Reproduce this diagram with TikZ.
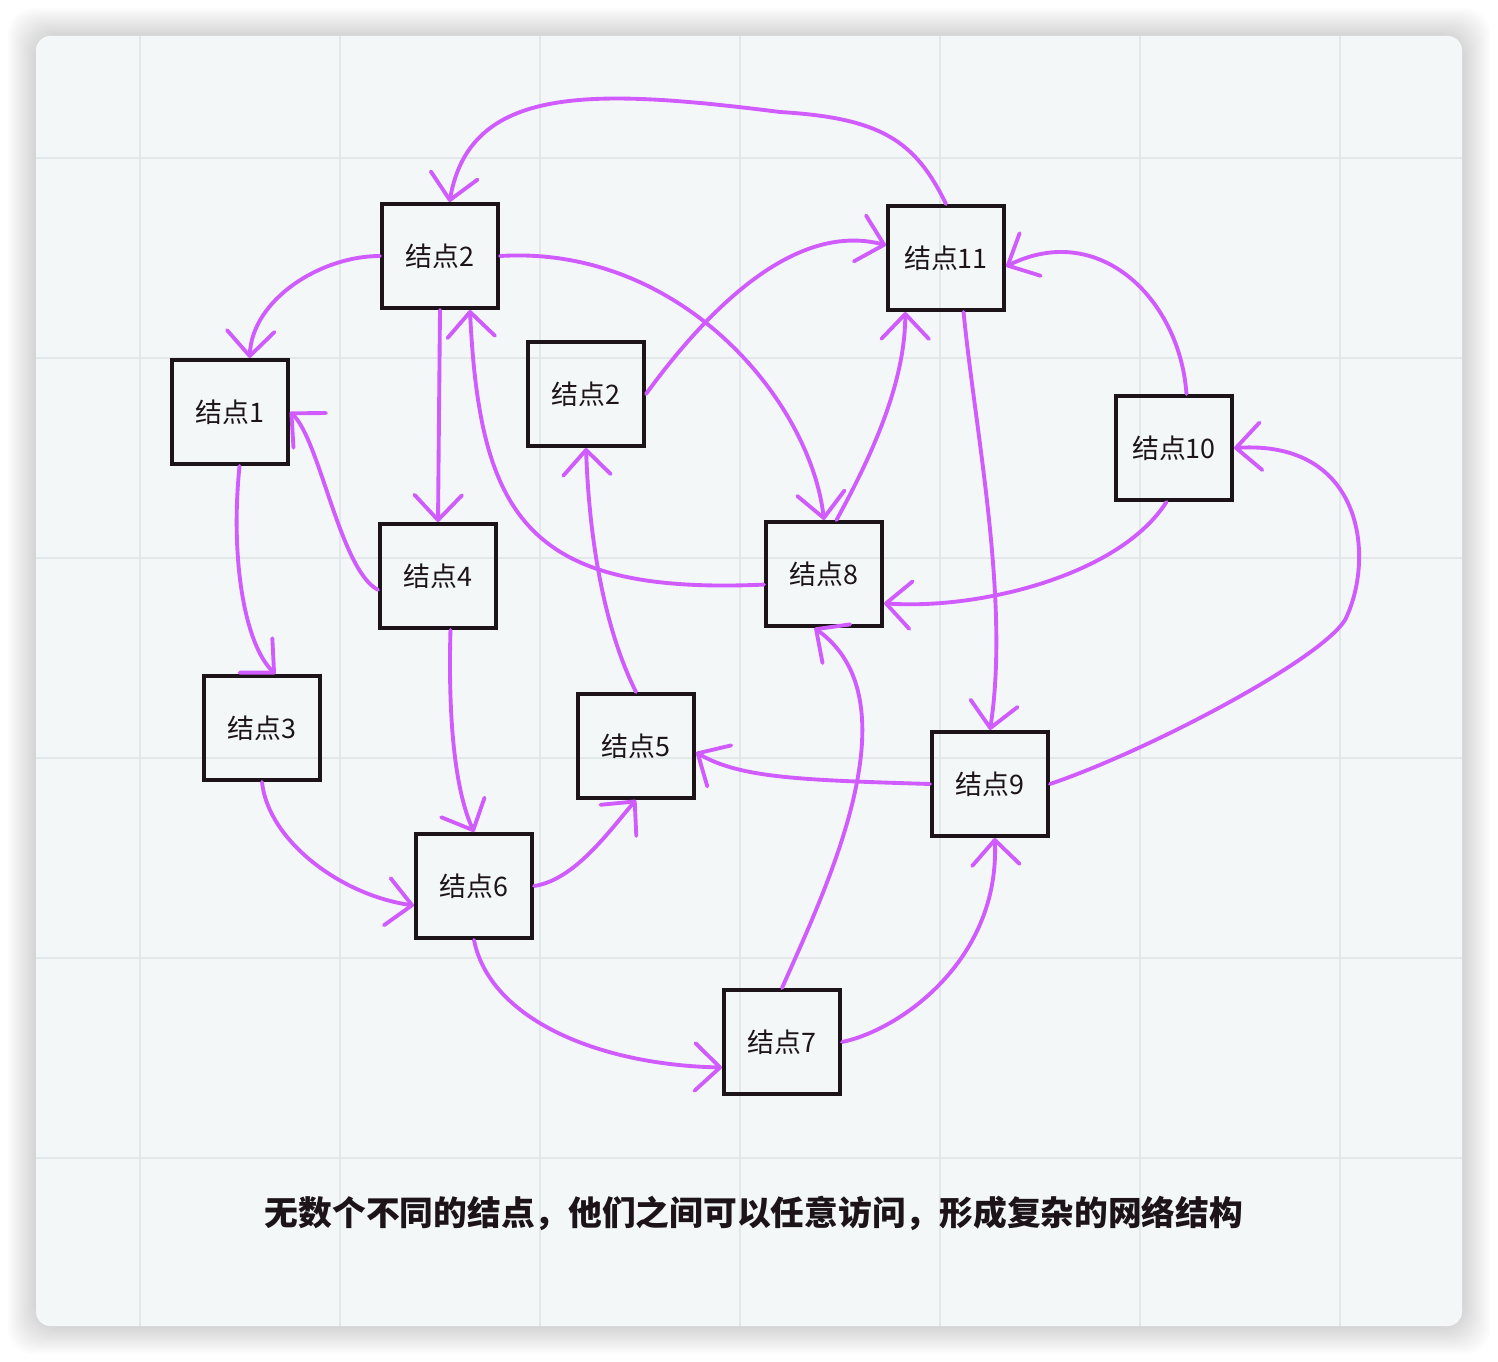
\documentclass[tikz,border=0pt]{standalone}
\usepackage{fontspec}
\setmainfont{Noto Sans CJK SC}
\usetikzlibrary{arrows.meta}
\definecolor{lilla}{HTML}{D05CFF}
\definecolor{kant}{HTML}{1C1418}
\definecolor{flade}{HTML}{F3F7F8}
\definecolor{gitter}{HTML}{E2E7EA}

\begin{document}
\begin{tikzpicture}[x=0.02cm,y=-0.02cm,
  knude/.style={draw=kant,line width=2.3pt,minimum width=2.32cm,minimum height=2.08cm,
    inner sep=0pt,text=kant,font=\fontsize{15.3}{18}\selectfont},
  pil/.style={draw=lilla,line width=2.2pt,line cap=round,line join=round,
    -{Straight Barb[length=0.5cm,width=0.95cm,round]}},
  gitterlinje/.style={draw=gitter,line width=1.1pt}]
  % Baggrund
  \useasboundingbox (0,0) rectangle (1498,1362);
  \fill[white] (0,0) rectangle (1498,1362);
  \foreach \i in {1,...,14}
    \fill[black,opacity=0.012,rounded corners=0.5cm] (36-2*\i,36-2*\i) rectangle (1462+2*\i,1326+2*\i);
  \fill[flade,rounded corners=0.28cm] (36,36) rectangle (1462,1326);

  % Gitter
  \foreach \x in {140,340,...,1340}
    \draw[gitterlinje] (\x,36) -- (\x,1326);
  \foreach \y in {158,358,...,1158}
    \draw[gitterlinje] (36,\y) -- (1462,\y);

  % Knuder
  \node[knude] (K2)  at (440,256)  {结点2};
  \node[knude] (K11) at (946,258)  {结点11};
  \node[knude] (K1)  at (230,412)  {结点1};
  \node[knude] (K2b) at (586,394)  {结点2};
  \node[knude] (K10) at (1174,448) {结点10};
  \node[knude] (K4)  at (438,576)  {结点4};
  \node[knude] (K8)  at (824,574)  {结点8};
  \node[knude] (K3)  at (262,728)  {结点3};
  \node[knude] (K5)  at (636,746)  {结点5};
  \node[knude] (K9)  at (990,784)  {结点9};
  \node[knude] (K6)  at (474,886)  {结点6};
  \node[knude] (K7)  at (782,1042) {结点7};

  % Pile
  \draw[pil] (K11.north) .. controls (915,140) and (880,118) .. (780,112)
    .. controls (590,88) and (470,85) .. (K2.80);
  \draw[pil] (K2.west) .. controls (320,256) and (252,300) .. (K1.70);
  \draw[pil] (K2.east) .. controls (680,245) and (810,400) .. (K8.north);
  \draw[pil] (K2.south) -- (K4.north);
  \draw[pil] (K8.190) .. controls (530,595) and (480,520) .. (K2.299);
  \draw[pil] (K2b.east) .. controls (700,320) and (790,220) .. (K11.168);
  \draw[pil] (K8.77) .. controls (875,450) and (905,380) .. (K11.233);
  \draw[pil] (K10.77) .. controls (1180,300) and (1100,220) .. (K11.352);
  \draw[pil] (K11.288) .. controls (975,430) and (1010,600) .. (K9.north);
  \draw[pil] (K10.262) .. controls (1120,575) and (980,610) .. (K8.334);
  \draw[pil] (K9.east) .. controls (1150,750) and (1320,660) .. (1345,620)
    .. controls (1375,560) and (1365,440) .. (K10.east);
  \draw[pil] (K1.280) .. controls (230,560) and (245,645) .. (K3.76);
  \draw[pil] (K4.193) .. controls (340,570) and (320,440) .. (K1.east);
  \draw[pil] (K4.283) .. controls (448,720) and (455,790) .. (K6.north);
  \draw[pil] (K3.south) .. controls (268,840) and (340,895) .. (K6.198);
  \draw[pil] (K6.east) .. controls (575,880) and (610,830) .. (K5.south);
  \draw[pil] (K5.north) .. controls (610,640) and (590,560) .. (K2b.south);
  \draw[pil] (K9.west) .. controls (800,780) and (740,778) .. (K5.354);
  \draw[pil] (K7.north) .. controls (830,880) and (915,700) .. (K8.260);
  \draw[pil] (K6.south) .. controls (490,1020) and (600,1065) .. (K7.203);
  \draw[pil] (K7.east) .. controls (900,1030) and (1000,960) .. (K9.275);

  % Tekst
  \node[text=kant,font=\fontsize{19.2}{22}\selectfont\bfseries] (tekst) at (754,1213)
    {无数个不同的结点，他们之间可以任意访问，形成复杂的网络结构};
\end{tikzpicture}
\end{document}
